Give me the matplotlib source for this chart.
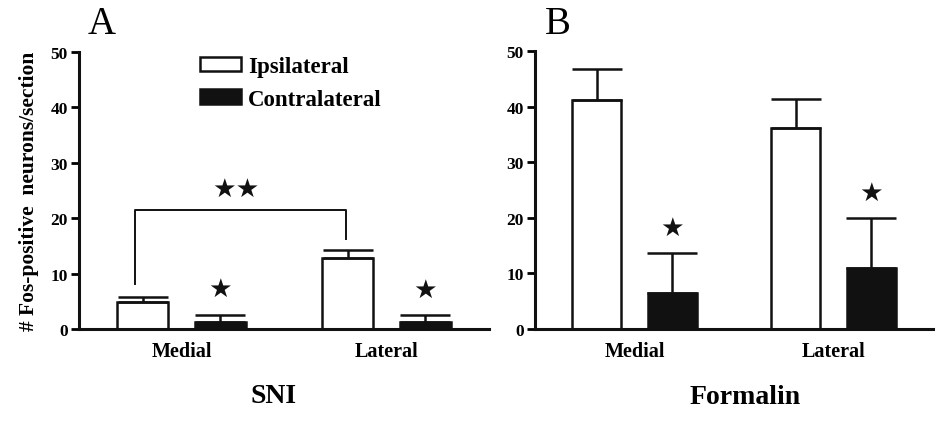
import matplotlib.pyplot as plt
import numpy as np

plt.rcParams['font.family'] = ['Liberation Serif', 'DejaVu Serif']
plt.rcParams['font.weight'] = 'bold'

# data
regions = ["Medial", "Lateral"]
series = ["Ipsilateral", "Contralateral"]

sni_ipsi = [4.8, 12.9]
sni_ipsi_err = [1.0, 1.4]
sni_contra = [1.3, 1.2]
sni_contra_err = [1.3, 1.3]

form_ipsi = [41.2, 36.2]
form_ipsi_err = [5.5, 5.2]
form_contra = [6.5, 11.0]
form_contra_err = [7.1, 8.9]

# stars above contralateral bars (significance vs ipsilateral)
sni_star = [True, True]
form_star = [True, True]

INK = '#111111'
width = 0.245
off = 0.19
x = np.arange(len(regions))

fig = plt.figure(figsize=(9.42, 4.27), dpi=100)
axA = fig.add_axes([79/942, 1-330/427, 410/942, 277/427])
axB = fig.add_axes([535/942, 1-330/427, 398/942, 278/427])


def draw_panel(ax, ipsi, ipsi_err, contra, contra_err, stars):
    z = np.zeros(len(x))
    ax.bar(x - off, ipsi, width, color='white', edgecolor=INK, linewidth=1.8,
           yerr=[z, ipsi_err], capsize=18,
           error_kw=dict(ecolor=INK, elinewidth=1.8, capthick=1.8),
           label=series[0], zorder=2)
    ax.bar(x + off, contra, width, color=INK, edgecolor=INK, linewidth=1.8,
           yerr=[z, contra_err], capsize=18,
           error_kw=dict(ecolor=INK, elinewidth=1.8, capthick=1.8),
           label=series[1], zorder=2)
    for i in range(len(x)):
        if stars[i]:
            ax.text(x[i] + off, contra[i] + contra_err[i] + 4.6, '\u2605',
                    family='DejaVu Sans', fontsize=19, ha='center', va='center',
                    color=INK)
    ax.set_xlim(-0.5, 1.5)
    ax.set_ylim(0, 50)
    ax.set_yticks([0, 10, 20, 30, 40, 50])
    ax.set_xticks(x)
    ax.set_xticklabels(regions, fontsize=14.5, fontweight='bold')
    ax.tick_params(axis='x', length=0, pad=9)
    ax.tick_params(axis='y', direction='out', length=6, width=2.0, pad=2,
                   labelsize=12.5)
    for s in ['top', 'right']:
        ax.spines[s].set_visible(False)
    for s in ['left', 'bottom']:
        ax.spines[s].set_linewidth(2.2)
        ax.spines[s].set_color(INK)


draw_panel(axA, sni_ipsi, sni_ipsi_err, sni_contra, sni_contra_err, sni_star)
draw_panel(axB, form_ipsi, form_ipsi_err, form_contra, form_contra_err, form_star)

# bracket between medial and lateral ipsilateral (SNI)
axA.plot([-0.225, -0.225, 0.80, 0.80], [8.1, 21.5, 21.5, 16.2], color=INK,
         linewidth=1.4, zorder=3)
axA.text(0.265, 25.3, '\u2605\u2605', family='DejaVu Sans', fontsize=19,
         ha='center', va='center', color=INK)

axA.set_ylabel('# Fos-positive  neurons/section', fontsize=15.5, fontweight='bold',
               labelpad=8)

axA.legend(frameon=False, loc='upper left', bbox_to_anchor=(0.295, 0.985),
           fontsize=16.5, handlelength=1.8, handleheight=0.6, handletextpad=0.3,
           labelspacing=0.5, borderpad=0, borderaxespad=0)

fig.text(273/942, 1-397/427, 'SNI', fontsize=20, fontweight='bold',
         ha='center', va='center')
fig.text(745/942, 1-398/427, 'Formalin', fontsize=20, fontweight='bold',
         ha='center', va='center')
fig.text(102/942, 1-25/427, 'A', fontsize=28, fontweight='normal',
         ha='center', va='center')
fig.text(558/942, 1-25/427, 'B', fontsize=28, fontweight='normal',
         ha='center', va='center')

fig.savefig('out.png', dpi=100, facecolor='white')
